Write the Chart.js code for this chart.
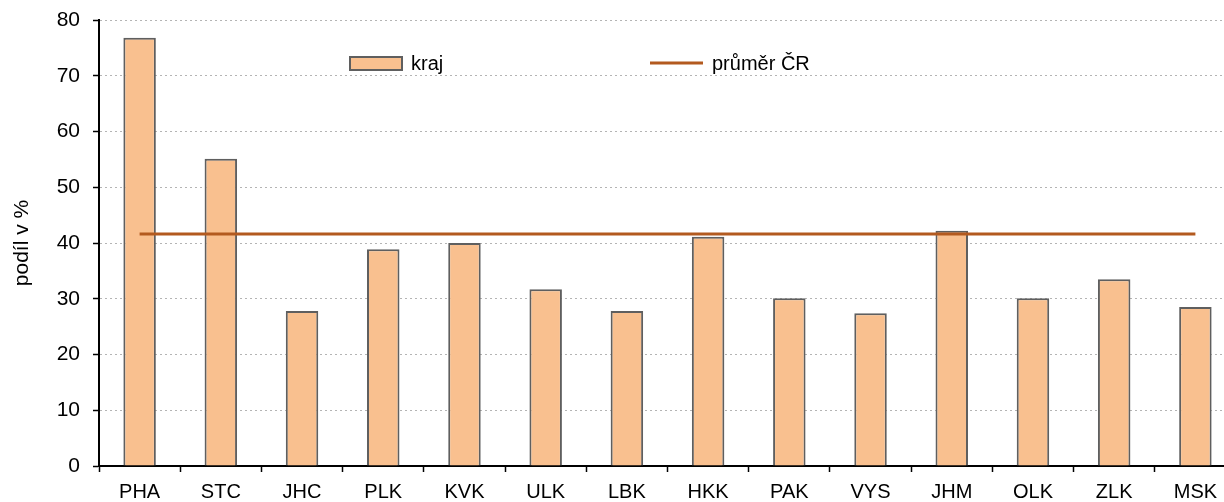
<!DOCTYPE html>
<html>
<head>
<meta charset="utf-8">
<script src="https://cdn.jsdelivr.net/npm/chart.js@4"></script>
<style>
  html, body { margin:0; padding:0; background:#fff; overflow:hidden; }
  #wrap { width:1236px; height:502px; }
</style>
</head>
<body>
<div id="wrap"><canvas id="c" width="1236" height="502"></canvas></div>
<script>
const regions = ['PHA','STC','JHC','PLK','KVK','ULK','LBK','HKK','PAK','VYS','JHM','OLK','ZLK','MSK'];
const krajValues = [76.8, 55.1, 27.8, 38.9, 40.0, 31.7, 27.8, 41.1, 30.1, 27.4, 42.2, 30.1, 33.5, 28.5];
const czAverage = 41.6;
const avgValues = regions.map(() => czAverage);
const yTicks = [0, 10, 20, 30, 40, 50, 60, 70, 80];

const FONT = 'Liberation Sans, Arial, sans-serif';
const BAR_FILL = '#F9C08F';
const BAR_EDGE = '#5f5f5f';
const LINE_COL = '#B35A1F';

// legend sits inside the plot, drawn by hand like the original
const insideLegend = {
  id: 'insideLegend',
  afterDraw(chart) {
    const ctx = chart.ctx;
    ctx.save();
    ctx.font = '20px ' + FONT;
    ctx.textBaseline = 'middle';
    ctx.fillStyle = BAR_FILL;
    ctx.fillRect(350, 57, 52, 13);
    ctx.strokeStyle = BAR_EDGE;
    ctx.lineWidth = 2;
    ctx.strokeRect(350, 57, 52, 13);
    ctx.fillStyle = '#000';
    ctx.fillText('kraj', 411, 64);
    ctx.strokeStyle = LINE_COL;
    ctx.lineWidth = 3;
    ctx.beginPath();
    ctx.moveTo(650, 63);
    ctx.lineTo(703, 63);
    ctx.stroke();
    ctx.fillText('průměr ČR', 712, 64);
    ctx.restore();
  }
};

new Chart(document.getElementById('c'), {
  data: {
    labels: regions,
    datasets: [
      { type:'line', label:'průměr ČR', data:avgValues, borderColor:LINE_COL, borderWidth:3,
        pointRadius:0, fill:false, order:0 },
      { type:'bar', label:'kraj', data:krajValues, backgroundColor:BAR_FILL, borderColor:BAR_EDGE,
        borderWidth:2, barPercentage:0.4, categoryPercentage:1.0, order:1 }
    ]
  },
  options: {
    responsive:false,
    animation:false,
    layout:{ padding:{ top:20, right:0, left:0, bottom:0 } },
    plugins:{ legend:{ display:false }, tooltip:{ enabled:false } },
    scales:{
      x:{
        offset:true,
        grid:{ display:true, drawOnChartArea:false, tickLength:6, tickColor:'#000', tickWidth:1.5, offset:true },
        border:{ color:'#000', width:2 },
        ticks:{ color:'#000', font:{ family:FONT, size:20 }, padding:8, maxRotation:0, autoSkip:false },
        afterFit(s){ s.height = 36; s.paddingLeft = 0; s.paddingRight = 0; }
      },
      y:{
        min:0, max:80,
        afterBuildTicks(s){ s.ticks = yTicks.map(v => ({ value:v })); },
        grid:{ color:'#b4b4b4', lineWidth:1, tickLength:6, tickColor:'#000', tickBorderDash:[], tickWidth:1.5 },
        border:{ color:'#000', width:2, dash:[2,3] },
        ticks:{ color:'#000', font:{ family:FONT, size:21 }, padding:13 },
        title:{ display:true, text:'podíl v %', color:'#000', font:{ family:FONT, size:21 }, padding:{ top:10, bottom:0 } },
        afterFit(s){ s.width = 99; s.paddingTop = 0; s.paddingBottom = 0; }
      }
    }
  },
  plugins:[insideLegend]
});
</script>
</body>
</html>
